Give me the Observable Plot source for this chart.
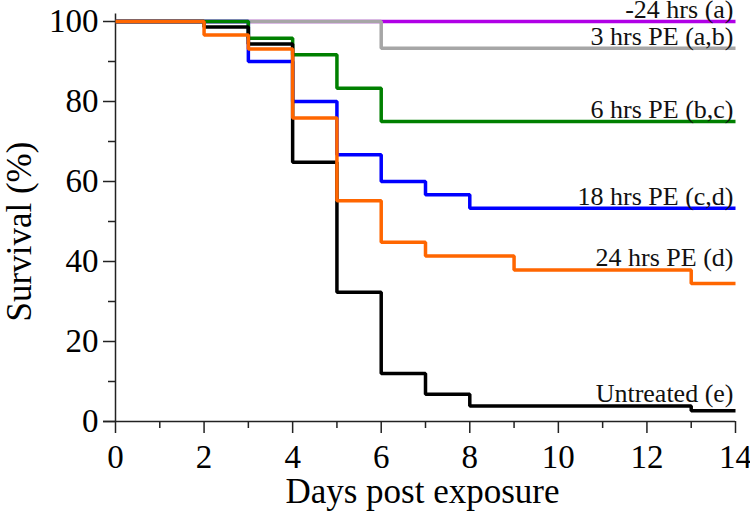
<!DOCTYPE html>
<html>
<head>
<meta charset="utf-8">
<script src="https://cdn.jsdelivr.net/npm/d3@7"></script>
<script src="https://cdn.jsdelivr.net/npm/@observablehq/plot@0.6"></script>
<style>
  html, body { margin: 0; padding: 0; background: #fff; }
  #chart { width: 750px; height: 517px; }
  svg { font-family: "Liberation Serif", "Times New Roman", serif; color: #000; }
</style>
</head>
<body>
<div id="chart"></div>
<script>
// ---- Data ----
// listed in drawing order (first = bottom)
const seriesNames = ["-24 hrs (a)", "3 hrs PE (a,b)", "18 hrs PE (c,d)", "6 hrs PE (b,c)", "Untreated (e)", "24 hrs PE (d)"];
const seriesColors = ["#b000e6", "#a6a6a6", "#0000ff", "#008000", "#000000", "#ff6600"];

const daysM24 = [0, 14];
const survM24 = [100, 100];

const days3h = [0, 6, 14];
const surv3h = [100, 93.3, 93.3];

const days18h = [0, 3, 4, 5, 6, 7, 8, 14];
const surv18h = [100, 90, 80, 66.7, 60, 56.7, 53.3, 53.3];

const days6h = [0, 3, 4, 5, 6, 14];
const surv6h = [100, 95.8, 91.7, 83.3, 75, 75];

const daysUntreated = [0, 2, 3, 4, 5, 6, 7, 8, 13, 14];
const survUntreated = [100, 98.6, 94.4, 64.8, 32.3, 12, 6.8, 3.9, 2.7, 2.7];

const days24h = [0, 2, 3, 4, 5, 6, 7, 9, 13, 14];
const surv24h = [100, 96.6, 93.1, 75.9, 55.2, 44.8, 41.4, 37.9, 34.5, 34.5];

const xMajorTicks = [0, 2, 4, 6, 8, 10, 12, 14];
const xMinorTicks = [1, 3, 5, 7, 9, 11, 13];
const yMajorTicks = [0, 20, 40, 60, 80, 100];
const yMinorTicks = [10, 30, 50, 70, 90];

const xTitle = "Days post exposure";
const yTitle = "Survival (%)";
const labelDay = 12; // series label sits above the step covering this day

// ---- Build tables ----
const allDays = [daysM24, days3h, days18h, days6h, daysUntreated, days24h];
const allSurv = [survM24, surv3h, surv18h, surv6h, survUntreated, surv24h];
const tables = seriesNames.map((name, i) =>
  allDays[i].map((d, j) => ({series: name, day: d, survival: allSurv[i][j]})));
const labelRows = tables.map(t => {
  const row = t.filter(r => r.day <= labelDay).pop();
  return {series: row.series, survival: row.survival, day: d3.max(t, r => r.day)};
});

const font = "Liberation Serif";
const axisStroke = "#222";

const lineMarks = tables.map((t, i) => Plot.line(t, {
  x: "day", y: "survival", curve: "step-after",
  stroke: seriesColors[i], strokeWidth: 3.5, strokeLinejoin: "miter", strokeLinecap: "butt"
}));

const chart = Plot.plot({
  width: 750,
  height: 517,
  marginLeft: 115,
  marginRight: 15,
  marginTop: 21,
  marginBottom: 96,
  style: {fontFamily: font, background: "#fff", color: "#000"},
  x: {domain: [0, 14]},
  y: {domain: [0, 100]},
  marks: [
    // axis lines
    Plot.ruleY([0], {x1: -0.27, x2: 14, stroke: axisStroke, strokeWidth: 1.5}),
    Plot.ruleX([0], {y1: 0, y2: 101.9, stroke: axisStroke, strokeWidth: 1.5}),
    // ticks
    Plot.axisX({ticks: xMajorTicks, tickSize: 12, tickPadding: 11, fontSize: 33, stroke: axisStroke, strokeWidth: 1.5, label: null, fill: "#000"}),
    Plot.axisX({ticks: xMinorTicks, tickSize: 7, text: null, stroke: axisStroke, strokeWidth: 1.5, label: null}),
    Plot.axisY({ticks: yMajorTicks, tickSize: 12, tickPadding: 5, fontSize: 33, stroke: axisStroke, strokeWidth: 1.5, label: null, fill: "#000"}),
    Plot.axisY({ticks: yMinorTicks, tickSize: 7, text: null, stroke: axisStroke, strokeWidth: 1.5, label: null}),
    // survival curves
    ...lineMarks,
    // series labels
    Plot.text(labelRows, {x: "day", y: "survival", text: "series", textAnchor: "end", lineAnchor: "bottom", dx: -2, dy: -3.5, fontSize: 26, fill: "#111"}),
    // axis titles
    Plot.text([xTitle], {frameAnchor: "bottom", lineAnchor: "bottom", dy: 81, dx: -3, fontSize: 35, fill: "#000"}),
    Plot.text([yTitle], {frameAnchor: "left", textAnchor: "middle", rotate: -90, lineAnchor: "top", dx: -109, dy: 10, fontSize: 35, fill: "#000"})
  ]
});
document.getElementById("chart").appendChild(chart);
</script>
</body>
</html>
